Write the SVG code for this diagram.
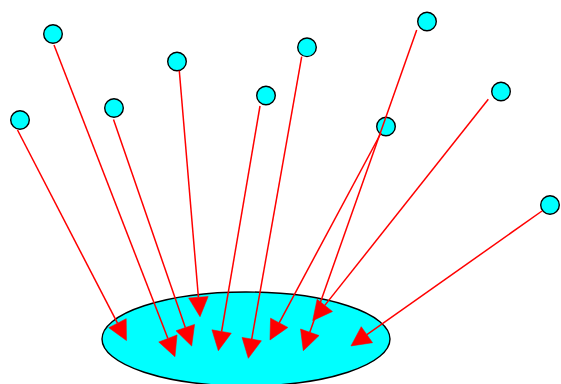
<svg xmlns="http://www.w3.org/2000/svg" width="561" height="384" viewBox="0 0 561 384">
<style>
.n{fill:#00ffff;stroke:#000;stroke-width:1.4}
.e{stroke:#ff0000;stroke-width:1.5;fill:none;marker-end:url(#ah)}
</style>
<defs>
<marker id="ah" markerUnits="userSpaceOnUse" markerWidth="22" markerHeight="22" viewBox="0 -11 21 22" refX="0" refY="0" orient="auto" overflow="visible">
<path d="M0,-9.8 L19.5,0 L0,9.8 Z" fill="#ff0000" stroke="#ff0000" stroke-width="0.5"/>
</marker>
</defs>
<rect width="561" height="384" fill="#fff"/>
<g id="nodes">
<g id="hub"><ellipse class="n" cx="246" cy="339" rx="144" ry="47"/></g>
<g id="n1"><circle class="n" cx="20" cy="120" r="9.3"/></g>
<g id="n2"><circle class="n" cx="53" cy="34" r="9.3"/></g>
<g id="n3"><circle class="n" cx="114" cy="108" r="9.3"/></g>
<g id="n4"><circle class="n" cx="177" cy="61.5" r="9.3"/></g>
<g id="n5"><circle class="n" cx="266" cy="95.5" r="9.3"/></g>
<g id="n6"><circle class="n" cx="307" cy="47.3" r="9.3"/></g>
<g id="n7"><circle class="n" cx="386" cy="126.5" r="9.3"/></g>
<g id="n8"><circle class="n" cx="427" cy="21.5" r="9.3"/></g>
<g id="n9"><circle class="n" cx="501" cy="91.5" r="9.3"/></g>
<g id="n10"><circle class="n" cx="550" cy="205" r="9.3"/></g>
</g>
<g id="edges">
<line class="e" x1="17.5" y1="130" x2="117.5" y2="323.2"/>
<line class="e" x1="54" y1="45" x2="167.9" y2="338.5"/>
<line class="e" x1="113.5" y1="119.5" x2="185.3" y2="327.6"/>
<line class="e" x1="179.3" y1="70.7" x2="198.4" y2="297.3"/>
<line class="e" x1="260" y1="106" x2="221.6" y2="331.5"/>
<line class="e" x1="301.7" y1="56.7" x2="251.7" y2="339.1"/>
<line class="e" x1="381" y1="133" x2="279.2" y2="322.8"/>
<line class="e" x1="416.7" y1="30" x2="309.8" y2="332.3"/>
<line class="e" x1="488.3" y1="99.3" x2="324.8" y2="305.4"/>
<line class="e" x1="542" y1="211" x2="366.9" y2="334.7"/>
</g>
</svg>
